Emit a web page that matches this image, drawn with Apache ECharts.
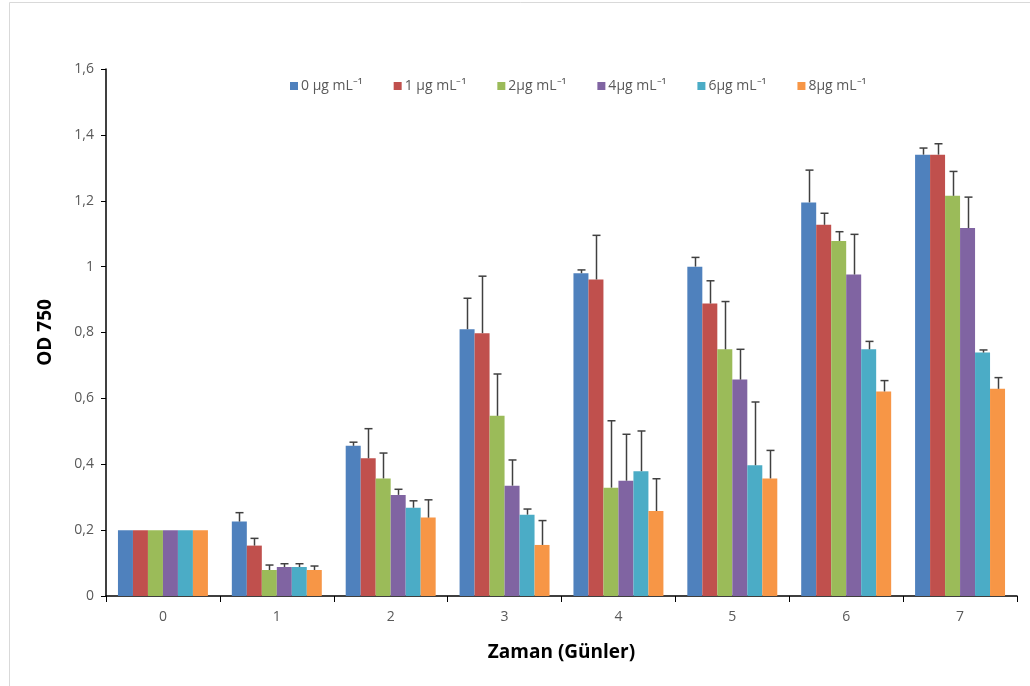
<!DOCTYPE html>
<html>
<head>
<meta charset="utf-8">
<script src="https://cdn.jsdelivr.net/npm/echarts@6/dist/echarts.min.js"></script>
<style>
html,body{margin:0;padding:0;background:#fff;}
#chart{width:1030px;height:686px;}
</style>
</head>
<body>
<div id="chart"></div>
<script>
var categories = ['0','1','2','3','4','5','6','7'];
var seriesNames = ['0 μg mL⁻¹','1 μg mL⁻¹','2μg mL⁻¹','4μg mL⁻¹','6μg mL⁻¹','8μg mL⁻¹'];
var colors = ['#4F81BD','#C0504D','#9BBB59','#8064A2','#4BACC6','#F79646'];

var s0 = [0.20, 0.226, 0.456, 0.810, 0.980, 1.000, 1.195, 1.340];
var s1 = [0.20, 0.153, 0.418, 0.798, 0.961, 0.888, 1.127, 1.340];
var s2 = [0.20, 0.079, 0.357, 0.547, 0.329, 0.749, 1.078, 1.215];
var s3 = [0.20, 0.088, 0.307, 0.335, 0.350, 0.657, 0.976, 1.117];
var s4 = [0.20, 0.088, 0.268, 0.247, 0.379, 0.397, 0.749, 0.739];
var s5 = [0.20, 0.079, 0.238, 0.155, 0.258, 0.357, 0.621, 0.629];

var e0 = [0.000, 0.027, 0.011, 0.094, 0.010, 0.028, 0.098, 0.020];
var e1 = [0.000, 0.022, 0.090, 0.173, 0.134, 0.069, 0.035, 0.033];
var e2 = [0.000, 0.015, 0.077, 0.127, 0.203, 0.145, 0.028, 0.074];
var e3 = [0.000, 0.010, 0.017, 0.078, 0.141, 0.092, 0.122, 0.094];
var e4 = [0.000, 0.010, 0.021, 0.017, 0.122, 0.192, 0.024, 0.008];
var e5 = [0.000, 0.012, 0.054, 0.074, 0.098, 0.085, 0.033, 0.034];

var yTicks = ['0','0,2','0,4','0,6','0,8','1','1,2','1,4','1,6'];

var values = [s0,s1,s2,s3,s4,s5];
var errors = [e0,e1,e2,e3,e4,e5];
var gapRatio = 0.21;
var nSeries = values.length;

var series = [];
values.forEach(function(vals, i){
  series.push({
    name: seriesNames[i],
    type: 'bar',
    data: vals,
    barGap: 0,
    barCategoryGap: (gapRatio*100)+'%',
    itemStyle: {color: colors[i]},
    z: 2
  });
});
values.forEach(function(vals, i){
  var errData = vals.map(function(v, k){ return [k, v, v + errors[i][k]]; });
  series.push({
    type: 'custom',
    name: seriesNames[i],
    data: errData,
    z: 3,
    silent: true,
    encode: {x: 0, y: [1,2]},
    renderItem: function(params, api){
      var k = api.value(0);
      var lo = api.coord([k, api.value(1)]);
      var hi = api.coord([k, api.value(2)]);
      var band = api.size([1, 0])[0];
      var groupW = band * (1 - gapRatio);
      var barW = groupW / nSeries;
      var x = lo[0] - groupW/2 + (i + 0.5) * barW;
      x = Math.round(x) + 0.5;
      var capHalf = 4;
      var st = {stroke: '#404040', lineWidth: 1.5};
      if (api.value(2) - api.value(1) < 1e-6) {
        return {type:'group', children:[]};
      }
      return {
        type: 'group',
        children: [
          {type:'line', shape:{x1:x, y1:lo[1], x2:x, y2:hi[1]}, style: st},
          {type:'line', shape:{x1:x-capHalf, y1:hi[1], x2:x+capHalf, y2:hi[1]}, style: st}
        ]
      };
    }
  });
});

var chart = echarts.init(document.getElementById('chart'), null, {renderer:'canvas'});
chart.setOption({
  backgroundColor: '#ffffff',
  animation: false,
  textStyle: {fontFamily: 'Open Sans'},
  graphic: [{
    type: 'rect',
    shape: {x: 9.5, y: 2.5, width: 1040, height: 700},
    style: {fill: 'none', stroke: '#d9d9d9', lineWidth: 1},
    silent: true
  }],
  legend: {
    data: seriesNames,
    left: 285,
    top: 74,
    itemWidth: 8,
    itemHeight: 8,
    itemGap: 31,
    icon: 'rect',
    textStyle: {color: '#595959', fontSize: 14, fontFamily: 'Open Sans', padding: [0,0,0,-2]}
  },
  grid: {left: 106, right: 13, top: 69, bottom: 90, containLabel: false},
  xAxis: {
    type: 'category',
    data: categories,
    name: 'Zaman (Günler)',
    nameLocation: 'middle',
    nameGap: 47,
    nameTextStyle: {fontSize: 19, fontWeight: 'bold', color: '#000', fontFamily: 'Open Sans'},
    axisLine: {lineStyle: {color: '#000', width: 1.5}},
    axisTick: {show: true, alignWithLabel: false, length: 6, lineStyle: {color: '#000'}},
    axisLabel: {color: '#595959', fontSize: 14, margin: 14, fontFamily: 'Open Sans'},
    splitLine: {show: false}
  },
  yAxis: {
    type: 'value',
    min: 0,
    max: 1.6,
    interval: 0.2,
    name: 'OD 750',
    nameLocation: 'middle',
    nameGap: 51,
    nameRotate: 90,
    nameTextStyle: {fontSize: 19, fontWeight: 'bold', color: '#000', fontFamily: 'Open Sans'},
    axisLine: {show: true, lineStyle: {color: '#000', width: 1.5}},
    axisTick: {show: true, length: 5, lineStyle: {color: '#000'}},
    axisLabel: {
      color: '#595959', fontSize: 14, margin: 12, fontFamily: 'Open Sans',
      formatter: function(v){ var idx = Math.round(v / 0.2); return yTicks[idx] !== undefined ? yTicks[idx] : ''; }
    },
    splitLine: {show: false}
  },
  series: series
});
</script>
</body>
</html>
